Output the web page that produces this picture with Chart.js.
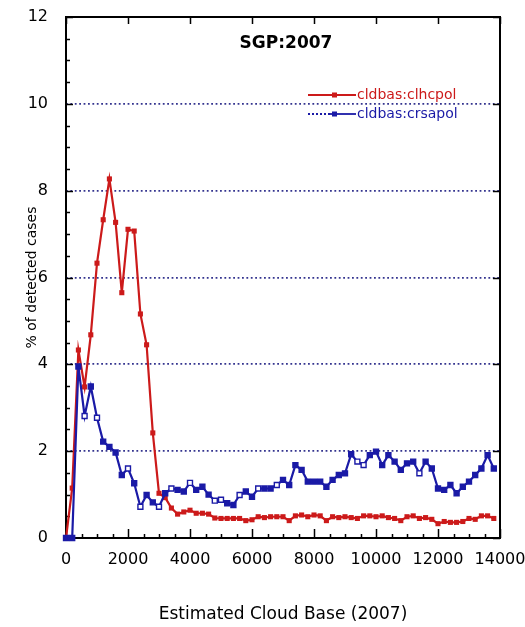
<!DOCTYPE html>
<html lang="en">
<head>
<meta charset="UTF-8" />
<title>SGP:2007 cloud base</title>
<script src="https://cdn.jsdelivr.net/npm/chart.js@4.4.1"></script>
<style>
  html, body { margin:0; padding:0; background:#fff; }
  #c { display:block; }
</style>
</head>
<body>
<canvas id="c" width="525" height="627"></canvas>
<script>
  // estimated cloud base (m), one bin every 200 m
  var cloudBase = [0,200,400,600,800,1000,1200,1400,1600,1800,
    2000,2200,2400,2600,2800,3000,3200,3400,3600,3800,
    4000,4200,4400,4600,4800,5000,5200,5400,5600,5800,
    6000,6200,6400,6600,6800,7000,7200,7400,7600,7800,
    8000,8200,8400,8600,8800,9000,9200,9400,9600,9800,
    10000,10200,10400,10600,10800,11000,11200,11400,11600,11800,
    12000,12200,12400,12600,12800,13000,13200,13400,13600,13800];

  // % of detected cases
  var clhcpol = [0,1.15,4.33,3.48,4.68,6.33,7.33,8.27,7.27,5.65,
    7.11,7.07,5.16,4.45,2.42,1.03,0.93,0.69,0.55,0.60,
    0.64,0.57,0.57,0.55,0.46,0.45,0.45,0.45,0.45,0.40,
    0.42,0.49,0.47,0.49,0.49,0.49,0.40,0.51,0.53,0.49,
    0.53,0.51,0.40,0.49,0.47,0.49,0.47,0.45,0.51,0.51,
    0.49,0.51,0.47,0.45,0.40,0.49,0.51,0.45,0.47,0.43,
    0.33,0.38,0.36,0.36,0.38,0.45,0.43,0.51,0.51,0.45];

  var crsapol = [0,0,3.95,2.81,3.49,2.77,2.22,2.10,1.97,1.45,
    1.60,1.26,0.72,0.99,0.82,0.72,1.03,1.14,1.11,1.07,
    1.27,1.11,1.18,1.00,0.86,0.88,0.80,0.76,0.99,1.07,
    0.95,1.14,1.14,1.14,1.22,1.34,1.22,1.68,1.57,1.30,
    1.30,1.30,1.18,1.34,1.45,1.49,1.93,1.76,1.68,1.91,
    1.99,1.68,1.91,1.76,1.57,1.72,1.76,1.49,1.76,1.60,
    1.14,1.11,1.22,1.03,1.18,1.30,1.45,1.60,1.91,1.60];

  var seriesNames = ['cldbas:clhcpol', 'cldbas:crsapol'];
  var chartTitle = 'SGP:2007';

  // which blue markers are drawn open in the original
  var openMarks = [3,5,10,12,15,17,20,24,25,28,31,34,47,48,57];

  var F = '"DejaVu Sans", sans-serif';
  var RED = '#cc1a1a', BLUE = '#1a1aa6';

  function pts(ys){
    var out = [];
    for (var i=0;i<ys.length;i++) out.push({x:cloudBase[i], y:ys[i]});
    return out;
  }

  // frame + inward ticks, like the old plotting package
  var frame = {
    id:'frame',
    beforeDatasetsDraw:function(c){
      var ctx=c.ctx, a=c.chartArea, sx=c.scales.x, sy=c.scales.y, v, p;
      ctx.save();
      ctx.strokeStyle='#000'; ctx.lineWidth=1.5;
      ctx.beginPath();
      for (v=0; v<=12; v+=0.5){
        p=Math.round(sy.getPixelForValue(v))+0.5;
        var big = (v%2===0);
        ctx.moveTo(a.left, p); ctx.lineTo(a.left+(big?7:4), p);
        if (big){ ctx.moveTo(a.right, p); ctx.lineTo(a.right-7, p); }
      }
      for (v=0; v<=14000; v+=500){
        p=Math.round(sx.getPixelForValue(v))+0.5;
        var maj = (v%2000===0);
        ctx.moveTo(p, a.bottom); ctx.lineTo(p, a.bottom-(maj?9:4));
        if (maj){ ctx.moveTo(p, a.top); ctx.lineTo(p, a.top+7); }
      }
      ctx.stroke();
      ctx.lineWidth=2;
      ctx.strokeRect(a.left, a.top, a.right-a.left, a.bottom-a.top);
      ctx.restore();
    },
    afterDraw:function(c){
      var ctx=c.ctx;
      ctx.save();
      ctx.fillStyle='#000';
      ctx.font='bold 17px '+F;
      ctx.textAlign='center'; ctx.textBaseline='middle';
      ctx.fillText(chartTitle, 286, 44);

      ctx.font='14px '+F;
      ctx.textAlign='left';
      // red entry
      ctx.strokeStyle=RED; ctx.lineWidth=1.8;
      ctx.beginPath(); ctx.moveTo(308,95); ctx.lineTo(356,95); ctx.stroke();
      ctx.fillStyle=RED; ctx.fillRect(332,92.5,5,5);
      ctx.fillText(seriesNames[0], 357, 95);
      // blue entry, dotted then solid
      ctx.strokeStyle=BLUE;
      ctx.setLineDash([2,2]);
      ctx.beginPath(); ctx.moveTo(308,114); ctx.lineTo(330,114); ctx.stroke();
      ctx.setLineDash([]);
      ctx.beginPath(); ctx.moveTo(330,114); ctx.lineTo(356,114); ctx.stroke();
      ctx.fillStyle=BLUE; ctx.fillRect(332,111.5,5,5);
      ctx.fillText(seriesNames[1], 357, 114);
      ctx.restore();
    }
  };

  new Chart(document.getElementById('c'), {
    type:'line',
    data:{ datasets:[
      { label:seriesNames[0], data:pts(clhcpol), borderColor:RED, borderWidth:2.2,
        pointStyle:'rect', pointRadius:3.6, pointBackgroundColor:RED, pointBorderColor:RED,
        pointBorderWidth:0, tension:0, clip:false, order:1 },
      { label:seriesNames[1], data:pts(crsapol), borderColor:BLUE, borderWidth:2.2,
        pointStyle:'rect', pointRadius:3.5, pointBorderColor:BLUE, pointBorderWidth:1.4,
        pointBackgroundColor:function(cx){ return openMarks.indexOf(cx.dataIndex)>=0 ? '#fff' : BLUE; },
        tension:0, clip:false, order:0 }
    ]},
    options:{
      responsive:false, animation:false, devicePixelRatio:1,
      layout:{ padding:{ top:17, right:25, left:0, bottom:0 } },
      plugins:{ legend:{display:false}, tooltip:{enabled:false} },
      scales:{
        x:{
          type:'linear', min:0, max:14000,
          afterFit:function(s){ s.height=89; s.paddingLeft=0; s.paddingRight=0; },
          ticks:{ stepSize:2000, padding:12, color:'#000', maxRotation:0, autoSkip:false,
                  font:{family:F, size:16}, callback:function(v){ return String(v); } },
          grid:{ display:false, drawTicks:false },
          border:{ display:false },
          title:{ display:true, text:'Estimated Cloud Base (2007)', color:'#000',
                  font:{family:F, size:17}, padding:{top:0, bottom:2} }
        },
        y:{
          min:0, max:12,
          afterFit:function(s){ s.width=66; s.paddingTop=0; s.paddingBottom=0; },
          ticks:{ stepSize:2, padding:18, color:'#000', font:{family:F, size:16} },
          grid:{ drawTicks:false, lineWidth:1.8,
                 color:function(cx){ var v=cx.tick.value; return (v>0 && v<12) ? '#34348f' : 'rgba(0,0,0,0)'; } },
          border:{ display:false, dash:[1.8,2.6] },
          title:{ display:true, text:'% of detected cases', color:'#000',
                  font:{family:F, size:14}, padding:{top:24, bottom:0} }
        }
      }
    },
    plugins:[frame]
  });
</script>
</body>
</html>
